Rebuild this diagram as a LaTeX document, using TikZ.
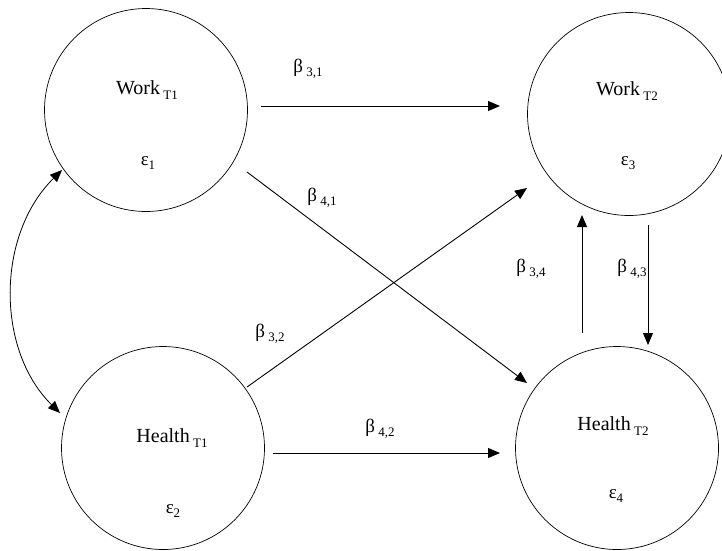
\documentclass[tikz,border=0pt]{standalone}
\usepackage{fontspec}
\setmainfont{Liberation Serif}
\usetikzlibrary{arrows.meta}
\newcommand{\sbx}[1]{\raisebox{-0.55ex}{\fontsize{13}{13}\selectfont #1}}
\begin{document}
\begin{tikzpicture}[x=1pt,y=-1pt,
  circ/.style={draw,circle,line width=0.7pt,minimum size=203pt,inner sep=0pt,outer sep=0pt},
  varname/.style={anchor=base,inner sep=0pt,font=\fontsize{20}{20}\selectfont},
  errname/.style={anchor=base,inner sep=0pt,font=\fontsize{19}{19}\selectfont},
  coef/.style={anchor=base,inner sep=0pt,font=\fontsize{19}{19}\selectfont},
  arr/.style={line width=0.9pt,-{Triangle[length=12pt,width=10pt]}},
  dblarr/.style={line width=0.8pt,{Triangle[length=12pt,width=10pt]}-{Triangle[length=12pt,width=10pt]}}]
\useasboundingbox (0,0) rectangle (722,550);
% circles
\node[circ] (C1) at (146,110) {};
\node[circ] (C2) at (163,448) {};
\node[circ] (C3) at (629,114) {};
\node[circ] (C4) at (617,448) {};
% texts
\node[varname] (t1) at (147,94) {Work\,\sbx{T1}};
\node[varname] (t2) at (172,442) {Health\,\sbx{T1}};
\node[varname] (t3) at (627,95) {Work\,\sbx{T2}};
\node[varname] (t4) at (613,430) {Health\,\sbx{T2}};
\node[errname] (e1) at (148,165) {ε\sbx{1}};
\node[errname] (e2) at (173,513) {ε\sbx{2}};
\node[errname] (e3) at (628,165) {ε\sbx{3}};
\node[errname] (e4) at (616,498) {ε\sbx{4}};
% arrow end points
\coordinate (a31s) at (261,106);
\coordinate (a31e) at (500,106);
\coordinate (a41s) at (247,172);
\coordinate (a41e) at (527,383);
\coordinate (a32s) at (247,387);
\coordinate (a32e) at (527,188);
\coordinate (a42s) at (273,453);
\coordinate (a42e) at (500,453);
\coordinate (a34s) at (582,333);
\coordinate (a34e) at (582,215);
\coordinate (a43s) at (648,225);
\coordinate (a43e) at (648,345);
\coordinate (cvs) at (62,170);
\coordinate (cve) at (60,413);
% arrows
\draw[arr] (a31s) -- (a31e);
\draw[arr] (a41s) -- (a41e);
\draw[arr] (a32s) -- (a32e);
\draw[arr] (a42s) -- (a42e);
\draw[arr] (a34s) -- (a34e);
\draw[arr] (a43s) -- (a43e);
\draw[dblarr] (cvs) .. controls (-4,235) and (-4,350) .. (cve);
% coefficient labels
\node[coef] (b31) at (308,72) {β\,\sbx{3,1}};
\node[coef] (b41) at (322,201) {β\,\sbx{4,1}};
\node[coef] (b32) at (270,337) {β\,\sbx{3,2}};
\node[coef] (b42) at (380,432) {β\,\sbx{4,2}};
\node[coef] (b34) at (531,272) {β\,\sbx{3,4}};
\node[coef] (b43) at (632,272) {β\,\sbx{4,3}};
\end{tikzpicture}
\end{document}
